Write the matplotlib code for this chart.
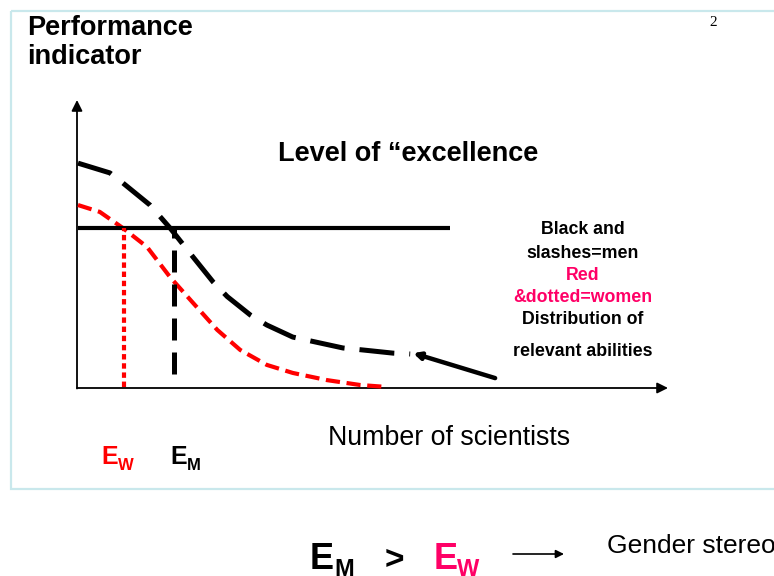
import matplotlib
matplotlib.use("Agg")
import matplotlib.pyplot as plt
from matplotlib.patches import Rectangle

# ---- data (chart units: x 0..10, y 0..10) ----
men_x = [0, 0.54, 0.76, 1.22, 1.56, 1.95, 2.29, 2.53, 2.92, 3.20, 3.64, 4.49, 4.83, 5.34, 5.63]
men_y = [7.80, 7.46, 7.11, 6.34, 5.54, 4.53, 3.66, 3.15, 2.51, 2.16, 1.74, 1.36, 1.29, 1.18, 1.15]
women_x = [0, 0.37, 0.76, 1.17, 1.56, 1.95, 2.36, 2.75, 3.20, 3.64, 4.22, 4.78, 5.24]
women_y = [6.34, 6.10, 5.54, 4.88, 3.83, 2.93, 1.99, 1.29, 0.77, 0.49, 0.24, 0.07, 0.0]
tail_x = [7.07, 5.68]
tail_y = [0.31, 1.18]
excellence_level = 5.54
excellence_end = 6.31
e_w = 0.78
e_m = 1.63
e_m_bottom = 0.45

legend_lines = ["Black and", "slashes=men", "Red", "&dotted=women", "Distribution of", "relevant abilities"]
legend_colors = ["black", "black", "#FF0066", "#FF0066", "black", "black"]

W, H = 774, 576
fig = plt.figure(figsize=(W / 100, H / 100), dpi=100)
fig.patch.set_facecolor("white")

FONT = "Liberation Sans"

# background / annotation layer in pixel coordinates
bg = fig.add_axes([0, 0, 1, 1])
bg.set_xlim(0, W)
bg.set_ylim(H, 0)
bg.axis("off")

bg.add_patch(Rectangle((11, 11), 800, 478, fill=False, edgecolor="#c9e8ec", lw=1.6, clip_on=False))

# chart axes
ox, oy = 78, 387
ax = fig.add_axes([ox / W, (H - oy) / H, 590 / W, 287 / H])
ax.set_xlim(0, 10)
ax.set_ylim(0, 10)
ax.axis("off")

# axis arrows
bg.annotate("", xy=(668, 388), xytext=(77, 388),
            arrowprops=dict(arrowstyle="-|>", lw=1.3, color="black", mutation_scale=16, shrinkA=0, shrinkB=0))
bg.annotate("", xy=(77, 100), xytext=(77, 388.5),
            arrowprops=dict(arrowstyle="-|>", lw=1.3, color="black", mutation_scale=16, shrinkA=0, shrinkB=0))

# curves
ax.plot(men_x, men_y, color="black", lw=3.6, dashes=(7.0, 3.0), clip_on=False,
        solid_capstyle="butt", dash_capstyle="butt", solid_joinstyle="round", dash_joinstyle="round")
ax.plot(women_x, women_y, color="#FF0000", lw=3.0, dashes=(3.4, 1.6), clip_on=False,
        dash_capstyle="butt", dash_joinstyle="round")
ax.annotate("", xy=(tail_x[1], tail_y[1]), xytext=(tail_x[0], tail_y[0]),
            arrowprops=dict(arrowstyle="-|>", lw=3.2, color="black", mutation_scale=10, shrinkA=0, shrinkB=0))

# excellence threshold and markers
ax.plot([0, excellence_end], [excellence_level, excellence_level], color="black", lw=3.0, clip_on=False,
        solid_capstyle="butt")
ax.plot([e_w, e_w], [0, excellence_level], color="#FF0000", lw=3.0, dashes=(1.3, 0.9), clip_on=False,
        dash_capstyle="butt")
ax.plot([e_m, e_m], [e_m_bottom, excellence_level], color="black", lw=3.6, dashes=(4.4, 2.4), clip_on=False,
        dash_capstyle="butt")

# texts
bg.text(27, 15, "Performance\nindicator", fontsize=19.5, fontweight="bold", family=FONT,
        va="top", ha="left", linespacing=1.15)
bg.text(713, 22, "2", fontsize=11, family="Liberation Serif", ha="center", va="center")
bg.text(408, 154, "Level of \u201cexcellence", fontsize=19.5, fontweight="bold", family=FONT,
        ha="center", va="center")
legend_y = [230, 253, 275, 298, 320, 351]
for t, c, y in zip(legend_lines, legend_colors, legend_y):
    bg.text(583, y, t, fontsize=12.8, fontweight="bold", family=FONT, color=c, ha="center", va="center")

bg.text(328, 438, "Number of scientists", fontsize=19.3, family=FONT, ha="left", va="center")

# E_W and E_M labels in the chart
bg.text(101, 464, "E", fontsize=18, fontweight="bold", family=FONT, color="#FF0000", ha="left", va="baseline")
bg.text(118, 470, "W", fontsize=12, fontweight="bold", family=FONT, color="#FF0000", ha="left", va="baseline")
bg.text(170, 464, "E", fontsize=18, fontweight="bold", family=FONT, color="black", ha="left", va="baseline")
bg.text(187, 470, "M", fontsize=12, fontweight="bold", family=FONT, color="black", ha="left", va="baseline")

# bottom statement
bg.text(310, 569, "E", fontsize=26, fontweight="bold", family=FONT, color="black", ha="left", va="baseline")
bg.text(334, 576, "M", fontsize=17, fontweight="bold", family=FONT, color="black", ha="left", va="baseline")
bg.text(394, 569, ">", fontsize=24, fontweight="bold", family=FONT, color="black", ha="center", va="baseline")
bg.text(434, 569, "E", fontsize=26, fontweight="bold", family=FONT, color="#FF0066", ha="left", va="baseline")
bg.text(457, 576, "W", fontsize=17, fontweight="bold", family=FONT, color="#FF0066", ha="left", va="baseline")
bg.annotate("", xy=(564, 554), xytext=(513, 554),
            arrowprops=dict(arrowstyle="-|>", lw=1.2, color="black", mutation_scale=12, shrinkA=0, shrinkB=0))
bg.text(607, 553, "Gender stereotypes", fontsize=19, family=FONT, ha="left", va="baseline")

fig.savefig("out.png", dpi=100)
